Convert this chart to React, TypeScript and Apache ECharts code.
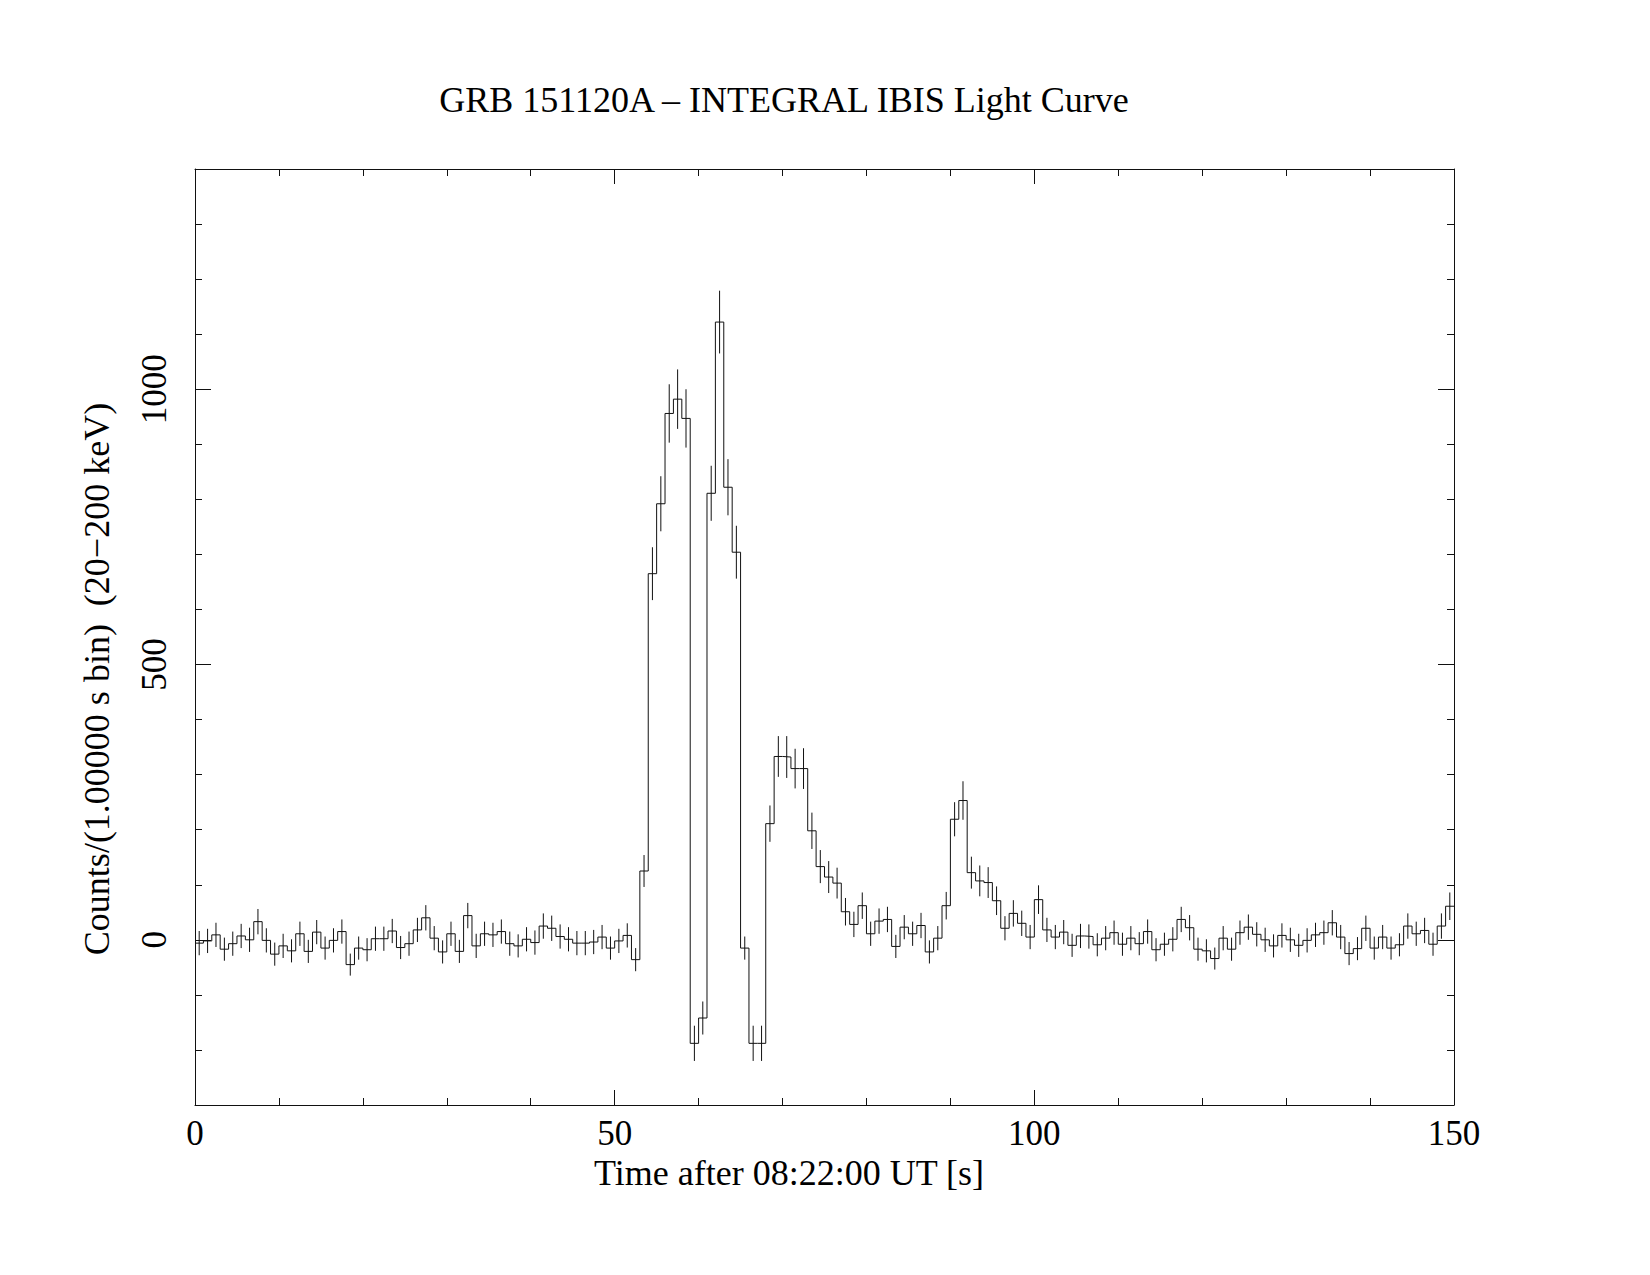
import React, { useEffect, useRef } from "react";
import * as echarts from "echarts";

// Counts per 1 s bin, bins start at t = 0,1,2,...,149 s
const counts: number[] = [
  -6, -2, 9, -17, -7, 7, 0, 33, -1, -26,
  -11, -20, 11, -21, 14, -15, -1, 15, -45, -15,
  -18, 2, 2, 16, -14, -7, 18, 40, 3, -22,
  11, -21, 44, -11, 11, 9, 15, -7, -11, 1,
  -5, 25, 21, 6, 1, -6, -6, -4, 5, -15,
  -2, 8, -36, 125, 665, 792, 956, 982, 947, -188,
  -142, 811, 1122, 822, 704, -15, -188, -188, 211, 333,
  332, 311, 311, 198, 133, 114, 103, 51, 28, 62,
  11, 34, 37, -12, 23, 11, 26, -22, 3, 62,
  219, 253, 122, 107, 104, 71, 21, 48, 30, 5,
  73, 18, 5, 14, -10, 7, 6, -9, 3, 13,
  -8, 3, -7, 15, -18, -8, 1, 37, 22, -17,
  -20, -34, 3, -17, 13, 23, 10, 0, -11, 8,
  0, -10, -1, 9, 13, 31, 5, -25, -16, 21,
  -15, 5, -15, -9, 25, 11, 17, -8, 25, 61,
];

// 1-sigma errors per bin
const errors: number[] = [
  22, 22, 22, 21, 22, 22, 22, 23, 22, 21,
  22, 21, 22, 21, 22, 21, 22, 22, 20, 21,
  21, 22, 22, 22, 21, 22, 22, 23, 22, 21,
  22, 21, 23, 22, 22, 22, 22, 22, 21, 22,
  22, 23, 23, 22, 22, 22, 22, 22, 22, 21,
  22, 22, 21, 29, 48, 50, 53, 54, 53, 32,
  30, 50, 57, 51, 48, 21, 32, 32, 33, 37,
  38, 36, 37, 33, 30, 29, 28, 25, 23, 24,
  22, 23, 23, 21, 22, 22, 23, 21, 22, 25,
  31, 35, 29, 28, 28, 26, 22, 24, 23, 22,
  26, 22, 22, 22, 21, 22, 22, 21, 22, 22,
  21, 22, 21, 22, 21, 21, 22, 23, 23, 21,
  21, 20, 22, 21, 22, 23, 22, 22, 21, 22,
  22, 21, 22, 22, 22, 23, 22, 21, 21, 23,
  21, 22, 21, 21, 23, 22, 23, 21, 23, 25,
];

const binWidth = 1;
const xMin = 0;
const xMax = 150;
const yMin = -300;
const yMax = 1400;
const yMajorTicks: number[] = [0, 500, 1000];

const titleText = "GRB 151120A \u2013 INTEGRAL IBIS Light Curve";
const xTitle = "Time after 08:22:00 UT [s]";
const yTitle = "Counts/(1.00000 s bin)  (20\u2212200 keV)";

const FONT = '"Liberation Serif", "Times New Roman", serif';
const INK = "#111";

export default function App() {
  const ref = useRef<HTMLDivElement>(null);

  useEffect(() => {
    document.body.style.margin = "0";
    if (!ref.current) return;
    const chart = echarts.init(ref.current, undefined, { renderer: "svg" });

    const stepData: number[][] = counts.map((v, i) => [xMin + i * binWidth, v]);
    stepData.push([xMin + counts.length * binWidth, counts[counts.length - 1]]);
    const errData: number[][] = counts.map((v, i) => [
      xMin + (i + 0.5) * binWidth,
      v - errors[i],
      v + errors[i],
    ]);

    const axisLineStyle = { color: INK, width: 1 };

    const baseX = {
      type: "value",
      min: xMin,
      max: xMax,
      interval: 50,
      axisLine: { show: true, onZero: false, lineStyle: axisLineStyle },
      axisTick: { show: true, inside: true, length: 15, lineStyle: axisLineStyle },
      minorTick: { show: true, splitNumber: 5, length: 7, lineStyle: axisLineStyle },
      splitLine: { show: false },
      minorSplitLine: { show: false },
    };

    const minorY = {
      type: "value",
      min: yMin,
      max: yMax,
      interval: 100,
      axisLine: { show: true, onZero: false, lineStyle: axisLineStyle },
      axisTick: { show: true, inside: true, length: 7, lineStyle: axisLineStyle },
      axisLabel: { show: false },
      splitLine: { show: false },
    };

    const majorY = {
      type: "value",
      min: yMin,
      max: yMax,
      interval: 100,
      axisLine: { show: false, onZero: false },
      axisTick: {
        show: true,
        inside: true,
        length: 16,
        customValues: yMajorTicks,
        lineStyle: axisLineStyle,
      },
      splitLine: { show: false },
    };

    const option: any = {
      animation: false,
      backgroundColor: "#fff",
      grid: { left: 195, top: 169, right: 196, bottom: 170, containLabel: false },
      xAxis: [
        {
          ...baseX,
          position: "bottom",
          axisLabel: {
            show: true,
            fontFamily: FONT,
            fontSize: 35,
            color: "#000",
            margin: 11,
            formatter: (v: number) => String(v),
          },
        },
        {
          ...baseX,
          position: "top",
          axisLabel: { show: false },
        },
      ],
      yAxis: [
        { ...minorY, position: "left" },
        {
          ...majorY,
          position: "left",
          axisLabel: {
            show: true,
            customValues: yMajorTicks,
            rotate: 90,
            fontFamily: FONT,
            fontSize: 35,
            color: "#000",
            margin: 23,
            formatter: (v: number) => String(v),
          },
        },
        { ...minorY, position: "right" },
        { ...majorY, position: "right", axisLabel: { show: false } },
      ],
      graphic: [
        {
          type: "text",
          x: 784,
          y: 100,
          style: {
            text: titleText,
            fill: "#000",
            font: `36px ${FONT}`,
            align: "center",
            verticalAlign: "middle",
          },
        },
        {
          type: "text",
          x: 789,
          y: 1173,
          style: {
            text: xTitle,
            fill: "#000",
            font: `36px ${FONT}`,
            align: "center",
            verticalAlign: "middle",
          },
        },
        {
          type: "text",
          x: 97,
          y: 679,
          rotation: Math.PI / 2,
          style: {
            text: yTitle,
            fill: "#000",
            font: `36px ${FONT}`,
            align: "center",
            verticalAlign: "middle",
          },
        },
      ],
      series: [
        {
          type: "line",
          xAxisIndex: 0,
          yAxisIndex: 0,
          data: stepData,
          step: "end",
          showSymbol: false,
          symbol: "none",
          lineStyle: { color: INK, width: 1 },
          silent: true,
        },
        {
          type: "custom",
          xAxisIndex: 0,
          yAxisIndex: 0,
          data: errData,
          encode: { x: 0, y: [1, 2] },
          silent: true,
          renderItem: (params: any, api: any) => {
            const x = api.value(0);
            const lo = api.coord([x, api.value(1)]);
            const hi = api.coord([x, api.value(2)]);
            return {
              type: "line",
              shape: { x1: lo[0], y1: lo[1], x2: hi[0], y2: hi[1] },
              style: { stroke: INK, lineWidth: 1 },
            };
          },
        },
      ],
    };

    chart.setOption(option);
    return () => {
      chart.dispose();
    };
  }, []);

  return (
    <div
      ref={ref}
      style={{
        position: "absolute",
        left: 0,
        top: 0,
        width: 1650,
        height: 1275,
        background: "#fff",
      }}
    />
  );
}
